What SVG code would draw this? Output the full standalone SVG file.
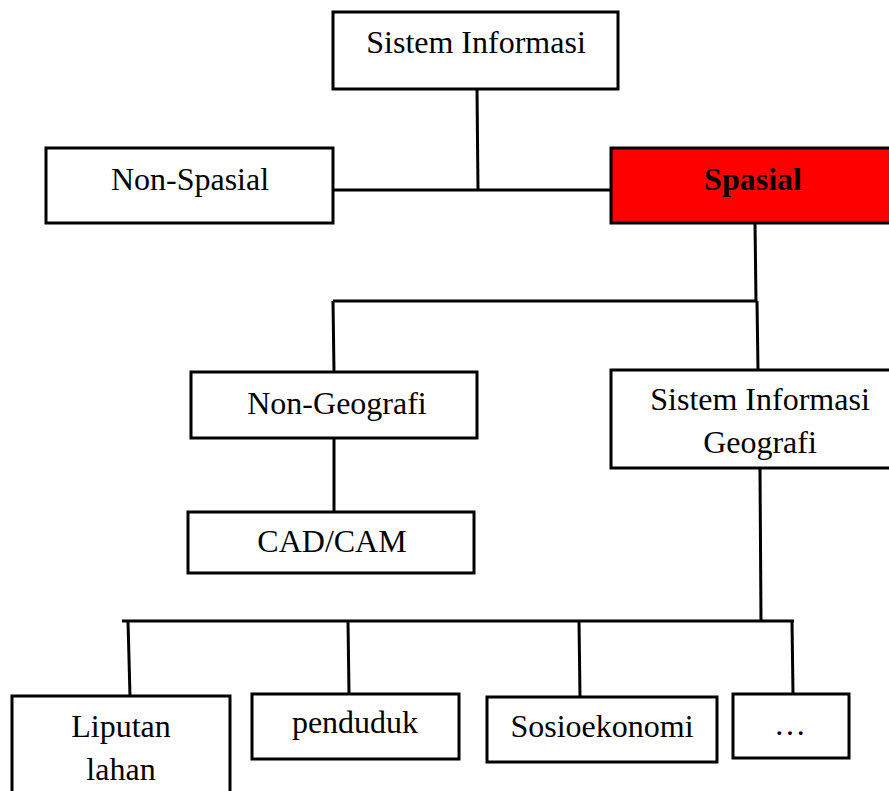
<svg xmlns="http://www.w3.org/2000/svg" width="889" height="791" viewBox="0 0 889 791">
<style>
.box{fill:#fff;stroke:#000;stroke-width:3}
.red{fill:#ff0000;stroke:#000;stroke-width:3}
.t{font-family:"Liberation Serif","Times New Roman",serif;font-size:32px;fill:#000;text-anchor:middle}
.b{font-weight:bold}
.c{fill:none;stroke:#000;stroke-width:3}
</style>
<rect width="889" height="791" fill="#fff"/>
<g id="connectors">
<path class="c" d="M477,89 L478,190"/>
<path class="c" d="M333,190 L611,190"/>
<path class="c" d="M755,223 L756,301"/>
<path class="c" d="M333,301 L757,301"/>
<path class="c" d="M757,301 L758,370"/>
<path class="c" d="M333,301 L334,372"/>
<path class="c" d="M334,438 L334,512"/>
<path class="c" d="M760,468 L761,621"/>
<path class="c" d="M122,621 L794,621"/>
<path class="c" d="M128,621 L130,696"/>
<path class="c" d="M348,621 L349,694"/>
<path class="c" d="M579,621 L580,697"/>
<path class="c" d="M792,621 L793,694"/>
</g>
<g id="sistem-informasi">
<rect class="box" x="333" y="12" width="285" height="77"/>
<text class="t" x="476" y="53">Sistem Informasi</text>
</g>
<g id="non-spasial">
<rect class="box" x="46" y="148" width="287" height="75"/>
<text class="t" x="190" y="190">Non-Spasial</text>
</g>
<g id="spasial">
<rect class="red" x="611" y="148" width="285" height="75"/>
<text class="t b" x="753" y="190">Spasial</text>
</g>
<g id="non-geografi">
<rect class="box" x="191" y="372" width="286" height="66"/>
<text class="t" x="337" y="414">Non-Geografi</text>
</g>
<g id="sig">
<rect class="box" x="611" y="370" width="285" height="98"/>
<text class="t" x="760" y="410">Sistem Informasi</text>
<text class="t" x="760" y="453">Geografi</text>
</g>
<g id="cad-cam">
<rect class="box" x="188" y="512" width="286" height="61"/>
<text class="t" x="332" y="552">CAD/CAM</text>
</g>
<g id="liputan-lahan">
<rect class="box" x="12" y="696" width="218" height="110"/>
<text class="t" x="121" y="737">Liputan</text>
<text class="t" x="121" y="780">lahan</text>
</g>
<g id="penduduk">
<rect class="box" x="252" y="694" width="207" height="65"/>
<text class="t" x="355" y="733">penduduk</text>
</g>
<g id="sosioekonomi">
<rect class="box" x="487" y="697" width="230" height="65"/>
<text class="t" x="602" y="737">Sosioekonomi</text>
</g>
<g id="more">
<rect class="box" x="733" y="694" width="116" height="64"/>
<text class="t" x="790" y="735">…</text>
</g>
</svg>
